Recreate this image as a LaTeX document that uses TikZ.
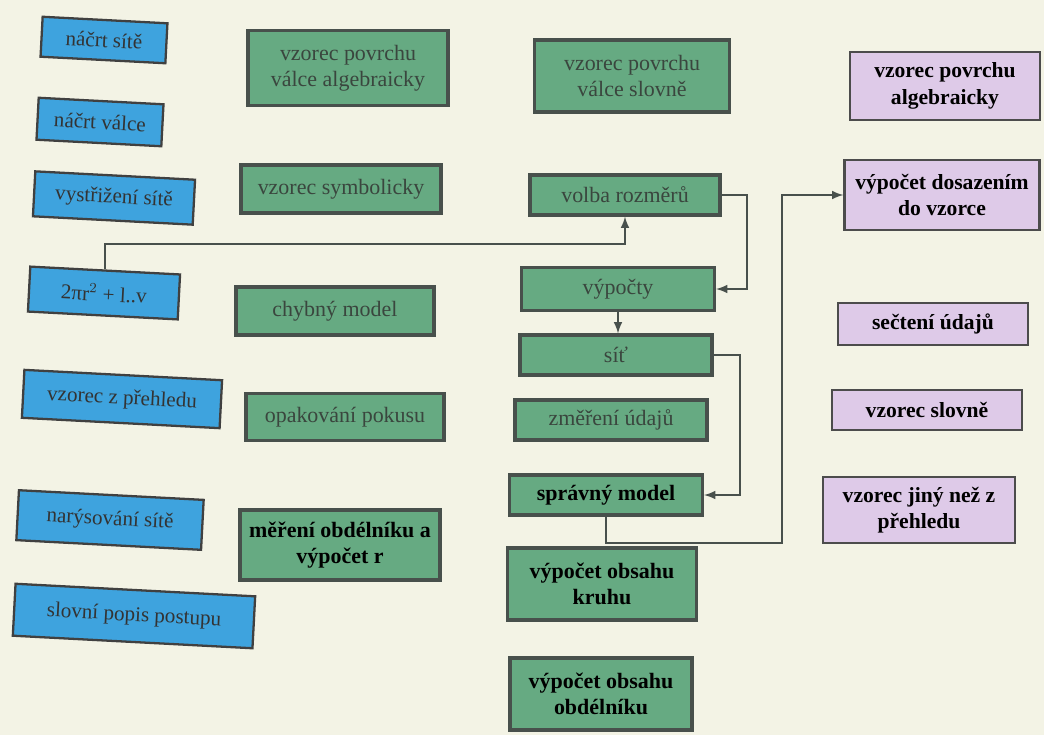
\documentclass[tikz,border=0pt]{standalone}
\usepackage{fontspec}
\setmainfont{Liberation Serif}
\usepackage{tikz}
\usetikzlibrary{calc}
\definecolor{paper}{RGB}{243,243,229}
\definecolor{bluefill}{RGB}{62,163,222}
\definecolor{greenfill}{RGB}{102,170,130}
\definecolor{pinkfill}{RGB}{222,202,232}
\definecolor{frame}{RGB}{72,80,76}
\definecolor{greytext}{RGB}{58,70,62}
\tikzset{
  bluebox/.style={draw=black!75, line width=1.3pt, fill=bluefill, text=black!80, rotate=-3, inner sep=0pt, align=center, font=\fontsize{12}{14}\selectfont},
  greenbox/.style={draw=frame, line width=1.8pt, fill=greenfill, text=greytext, inner sep=0pt, align=center, font=\fontsize{12.5}{15}\selectfont},
  darkbox/.style={greenbox, text=black, font=\fontsize{12.5}{15}\selectfont\bfseries},
  pinkbox/.style={draw=black!70, line width=1.3pt, fill=pinkfill, text=black, inner sep=0pt, align=center, font=\fontsize{12.3}{15}\selectfont\bfseries},
  link/.style={draw=frame, line width=1.2pt, -latex}
}
\begin{document}
\begin{tikzpicture}[x=0.02cm, y=-0.02cm]
			%%%%% START %%%%%
			
			\fill[paper] (0, 0) rectangle (1044, 735);
			\useasboundingbox (0, 0) rectangle (1044, 735);
			
			% left column
			\node[bluebox, minimum width=2.5cm, minimum height=0.8cm] (nacrtsite) at (104, 40) {náčrt sítě};
			\node[bluebox, minimum width=2.5cm, minimum height=0.84cm] (nacrtvalce) at (100, 122) {náčrt válce};
			\node[bluebox, minimum width=3.2cm, minimum height=0.9cm] (vystrizeni) at (114, 198) {vystřižení sítě};
			\node[bluebox, minimum width=3.0cm, minimum height=0.9cm] (vzorecpi) at (104, 293) {2πr$^2$ + l..v};
			\node[bluebox, minimum width=3.96cm, minimum height=0.96cm] (zprehledu) at (122, 399) {vzorec z přehledu};
			\node[bluebox, minimum width=3.7cm, minimum height=1.0cm] (narysovani) at (110, 520) {narýsování sítě};
			\node[bluebox, minimum width=4.8cm, minimum height=1.04cm] (slovnipopis) at (134, 616) {slovní popis postupu};
			
			% second column
			\node[greenbox, minimum width=4.0cm, minimum height=1.5cm] (valcealg) at (348, 68) {vzorec povrchu\\válce algebraicky};
			\node[greenbox, minimum width=4.0cm, minimum height=0.96cm] (symbolicky) at (341, 189) {vzorec symbolicky};
			\node[greenbox, minimum width=3.96cm, minimum height=0.96cm] (chybny) at (335, 311) {chybný model};
			\node[greenbox, minimum width=3.96cm, minimum height=0.94cm] (opakovani) at (345, 417) {opakování pokusu};
			\node[darkbox, minimum width=4.0cm, minimum height=1.4cm] (mereni) at (340, 545) {měření obdélníku a\\výpočet r};
			
			% third column
			\node[greenbox, minimum width=3.9cm, minimum height=1.44cm] (valceslov) at (632, 76) {vzorec povrchu\\válce slovně};
			\node[greenbox, minimum width=3.8cm, minimum height=0.8cm] (volba) at (625, 195) {volba rozměrů};
			\node[greenbox, minimum width=3.86cm, minimum height=0.86cm] (vypocty) at (618, 289) {výpočty};
			\node[greenbox, minimum width=3.84cm, minimum height=0.8cm] (sit) at (616, 355) {síť};
			\node[greenbox, minimum width=3.84cm, minimum height=0.8cm] (zmereni) at (611, 420) {změření údajů};
			\node[darkbox, minimum width=3.86cm, minimum height=0.8cm] (spravny) at (606, 495) {správný model};
			\node[darkbox, minimum width=3.78cm, minimum height=1.44cm] (kruh) at (602, 584) {výpočet obsahu\\kruhu};
			\node[darkbox, minimum width=3.64cm, minimum height=1.44cm] (obdelnik) at (601, 694) {výpočet obsahu\\obdélníku};
			
			% right column
			\node[pinkbox, minimum width=3.8cm, minimum height=1.36cm] (povrchalg) at (945, 86) {vzorec povrchu\\algebraicky};
			\node[pinkbox, minimum width=3.9cm, minimum height=1.4cm] (dosazeni) at (942, 195) {výpočet dosazením\\do vzorce};
			\node[pinkbox, minimum width=3.8cm, minimum height=0.84cm] (secteni) at (933, 324) {sečtení údajů};
			\node[pinkbox, minimum width=3.8cm, minimum height=0.8cm] (slovne) at (927, 410) {vzorec slovně};
			\node[pinkbox, minimum width=3.84cm, minimum height=1.32cm] (jiny) at (919, 510) {vzorec jiný než z\\přehledu};
			
			% connectors
			\coordinate (riser) at (782, 543);
			\draw[link] (vzorecpi.north) -- ++(0, 0.5cm) -| (volba.south);
			\draw[link] (volba.east) -- ++(0.5cm, 0) |- (vypocty.east);
			\draw[link] (vypocty.south) -- (vypocty.south |- sit.north);
			\draw[link] (sit.east) -- ++(0.52cm, 0) |- (spravny.east);
			\draw[link] (spravny.south) |- (riser) |- (dosazeni.west);
			
			%%%%% END %%%%%
\end{tikzpicture}
\end{document}
